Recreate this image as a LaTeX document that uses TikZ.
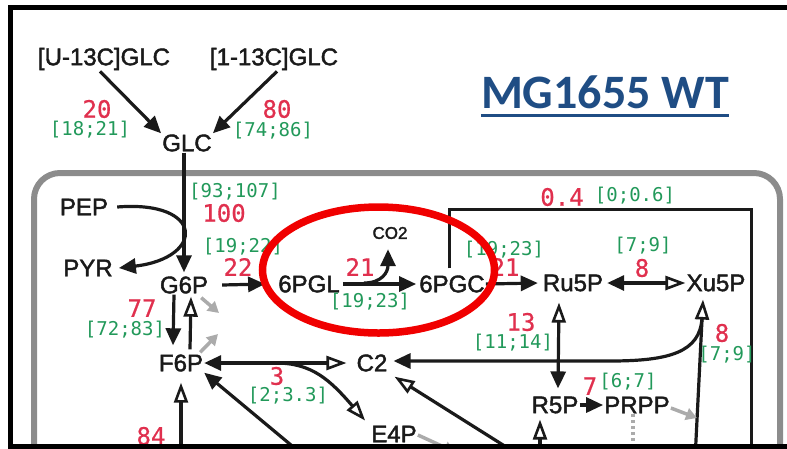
\documentclass[tikz,border=0pt]{standalone}
\usepackage{fontspec}
\setmainfont{Liberation Sans}
\newfontfamily\metfont{Liberation Sans}[FakeBold=1.8]
\newfontfamily\fluxmono{DejaVu Sans Mono}
\newfontfamily\fluxbold{DejaVu Sans Mono}[FakeBold=0.6]
\newfontfamily\strainfont{Carlito}
\usepackage{tikz}
\usetikzlibrary{
  arrows.meta,
  shapes.geometric,
  calc
}
\definecolor{mfInk}{HTML}{1A1A1A}
\definecolor{mfRed}{HTML}{E0304E}
\definecolor{mfGreen}{HTML}{22995A}
\definecolor{mfBlue}{HTML}{1F4D84}
\definecolor{mfWall}{HTML}{8C8C8C}
\definecolor{mfDrain}{HTML}{ABABAB}
\definecolor{mfRing}{HTML}{F00000}
\tikzset{
  met/.style={font=\metfont\fontsize{24}{24}\selectfont, text=mfInk, inner sep=1pt},
  smallmet/.style={met, font=\metfont\fontsize{17}{17}\selectfont},
  flux/.style={font=\fluxbold\fontsize{24}{24}\selectfont, text=mfRed, inner sep=0pt},
  ci/.style={font=\fluxmono\fontsize{19}{19}\selectfont, text=mfGreen, inner sep=0pt},
  rxn/.style={-{Triangle[length=17pt,width=15pt]}, line width=3.2pt, draw=mfInk},
  rxnopen/.style={-{Triangle[open,length=20pt,width=14pt,line width=2.6pt]}, line width=3.2pt, draw=mfInk},
  rev/.style={{Triangle[length=17pt,width=15pt]}-{Triangle[open,length=20pt,width=14pt,line width=2.6pt]}, line width=3.2pt, draw=mfInk},
  revdown/.style={{Triangle[open,length=20pt,width=14pt,line width=2.6pt]}-{Triangle[length=17pt,width=15pt]}, line width=3.2pt, draw=mfInk},
  bypass/.style={line width=3pt, draw=mfInk},
  drain/.style={-{Triangle[length=11pt,width=12pt]}, line width=3.5pt, draw=mfDrain},
  sink/.style={line width=3.5pt, draw=mfDrain, dash pattern=on 3pt off 3pt},
  wall/.style={line width=6pt, draw=mfWall, rounded corners=26pt},
  frame/.style={line width=5pt, draw=black},
  ring/.style={draw=mfRing, line width=7.5pt, ellipse, minimum width=232pt, minimum height=126pt, inner sep=0pt},
  strain/.style={font=\strainfont\bfseries\fontsize{48}{48}\selectfont, text=mfBlue, inner sep=0pt}
}

\begin{document}
\begin{tikzpicture}[x=1pt, y=-1pt]
  \useasboundingbox (0,0) rectangle (787,448);
  \clip (0,0) rectangle (787,448);
  \draw[wall] (34,480) |- (780,173) -- (780,480);

  \node[strain] (wt) at (605,92.5) {MG1655 WT};
  \draw[mfBlue, line width=3pt] ([yshift=-6.5pt]wt.base west) -- ([yshift=-6.5pt]wt.base east);

  % metabolites
  \node[met] (glcU) at (104,59) {[U-13C]GLC};
  \node[met] (glcOne) at (274,59) {[1-13C]GLC};
  \node[met] (glc) at (187,143) {GLC};
  \node[met] (pep) at (84,207) {PEP};
  \node[met] (pyr) at (88,268) {PYR};
  \node[met] (g6p) at (184,285) {G6P};
  \node[met] (pgl) at (309,284) {6PGL};
  \node[met] (pgc) at (452,284) {6PGC};
  \node[smallmet] (co2) at (390,233) {CO2};
  \node[met] (ru5p) at (573,283) {Ru5P};
  \node[met] (xu5p) at (716,283) {Xu5P};
  \node[met] (f6p) at (181,363) {F6P};
  \node[met] (c2) at (372,363) {C2};
  \node[met] (e4p) at (394,434) {E4P};
  \node[met] (r5p) at (555,405) {R5P};
  \node[met] (prpp) at (637,405) {PRPP};

  % loose ends
  \coordinate (co2fork) at (364,283);
  \coordinate (e4pfork) at (276,363);
  \coordinate (c2fork) at (702,318);
  \coordinate (bypassEnd) at (751,460);
  \coordinate (xu5pIn) at (695,460);
  \coordinate (f6pIn) at (181,460);
  \coordinate (r5pIn) at (540,460);
  \coordinate (f6pDiag) at (297,450);
  \coordinate (c2Diag) at (511,450);
  \coordinate (g6pDrain) at (219,313);
  \coordinate (f6pDrain) at (218,334);
  \coordinate (prppDrain) at (697,418);
  \coordinate (prppSink) at (633,460);
  \coordinate (e4pDrain) at (455,452);

  % reactions
  \draw[rxn] ([xshift=-4pt]glcU.south) -- (glc.north west);
  \draw[rxn] ([xshift=3pt]glcOne.south) -- (glc.north east);
  \draw[rxn] (glc.south -| g6p.north) -- ([yshift=3pt]g6p.north);
  \draw[rxn] ([xshift=8pt]pep.east) .. controls (205,200) and (205,258) .. ([xshift=5pt]pyr.east);
  \draw[rxn] ([xshift=13pt]g6p.east) -- ([xshift=-12pt]pgl.west);
  \draw[rxn] ([xshift=2pt]pgl.east) -- ([xshift=-2pt]pgc.west);
  \draw[rxn] (co2fork) .. controls (382,283) and (388,272) .. ([xshift=-2pt,yshift=-9pt]co2.south);
  \draw[rxn] (pgc.east) -- ([xshift=-4pt]ru5p.west);
  \draw[bypass] ([xshift=-3pt,yshift=6pt]pgc.north) -- ++(0,-59) -| (bypassEnd);
  \draw[rev] ([xshift=3pt]ru5p.east) -- (xu5p.west);
  \draw[rxn] ([xshift=-10pt]g6p.south) -- ([xshift=-8pt,yshift=8pt]f6p.north);
  \draw[rxnopen] ([xshift=9pt,yshift=4pt]f6p.north) -- ([xshift=7pt,yshift=-2pt]g6p.south);
  \draw[drain] ([xshift=-8pt,yshift=-3pt]g6p.south east) -- (g6pDrain);
  \draw[drain] ([xshift=-4pt,yshift=1pt]f6p.north east) -- (f6pDrain);
  \draw[rev] (f6p.east) -- ([xshift=-9pt]c2.west);
  \draw[rxnopen] (e4pfork) .. controls (312,363) and (330,380) .. ([xshift=-5pt,yshift=4pt]e4p.north west);
  \draw[rxnopen] (xu5pIn) -- ([xshift=-13pt,yshift=-7pt]xu5p.south);
  \draw[rxn] (c2fork) .. controls (700,352) and (670,361) .. (610,361) -- ([xshift=5pt,yshift=2pt]c2.east);
  \draw[revdown] ([xshift=-14pt,yshift=-10pt]ru5p.south) -- ([xshift=3pt,yshift=7pt]r5p.north);
  \draw[rxn] (r5p.east) -- (prpp.west);
  \draw[drain] ([yshift=-3pt]prpp.east) -- (prppDrain);
  \draw[sink] ([xshift=-4pt]prpp.south) -- (prppSink);
  \draw[drain] ([yshift=-1pt]e4p.east) -- (e4pDrain);
  \draw[rxn] (f6pDiag) -- (f6p.south east);
  \draw[rxnopen] (c2Diag) -- ([xshift=6pt,yshift=-4pt]c2.south east);
  \draw[rxnopen] (f6pIn) -- ([yshift=-10pt]f6p.south);
  \draw[rxnopen] (r5pIn) -- ([xshift=-15pt,yshift=-5pt]r5p.south);

  % fluxes and intervals
  \node[flux] (vGlcU) at (97,109) {20};
  \node[ci] (ciGlcU) at (90,130) {[18;21]};
  \node[flux] (vGlcOne) at (277,109) {80};
  \node[ci] (ciGlcOne) at (273,131) {[74;86]};
  \node[ci] (ciGlc) at (235,192) {[93;107]};
  \node[flux] (vGlc) at (224,213) {100};
  \node[ci] (ciZwf) at (243,247) {[19;22]};
  \node[flux] (vZwf) at (238,267) {22};
  \node[flux] (vPgl) at (360,267) {21};
  \node[ci] (ciPgl) at (370,302) {[19;23]};
  \node[ci] (ciGnd) at (504,250) {[19;23]};
  \node[flux] (vGnd) at (505,267) {21};
  \node[flux] (vEdd) at (562,197) {0.4};
  \node[ci] (ciEdd) at (635,196) {[0;0.6]};
  \node[ci] (ciRpe) at (643,246) {[7;9]};
  \node[flux] (vRpe) at (642,268) {8};
  \node[flux] (vPgi) at (142,308) {77};
  \node[ci] (ciPgi) at (125,330) {[72;83]};
  \node[flux] (vRpi) at (521,322) {13};
  \node[ci] (ciRpi) at (513,343) {[11;14]};
  \node[flux] (vTal) at (277,376) {3};
  \node[ci] (ciTal) at (288,396) {[2;3.3]};
  \node[flux] (vTkt) at (722,333) {8};
  \node[ci] (ciTkt) at (727,355) {[7;9]};
  \node[flux] (vPrs) at (590,386) {7};
  \node[ci] (ciPrs) at (628,382) {[6;7]};
  \node[flux] (vPfk) at (151,436) {84};

  \node[ring] (pppRing) at (378.5,270) {};
  \draw[frame] (800,7) -| (10.5,446) -- (800,446);
\end{tikzpicture}
\end{document}
